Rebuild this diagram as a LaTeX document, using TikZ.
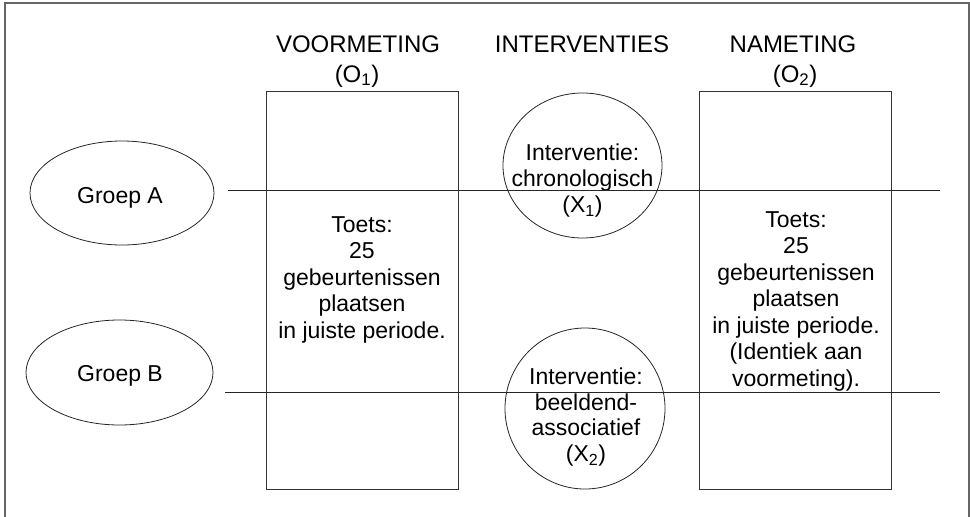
\documentclass[tikz,border=0pt]{standalone}
\usepackage{fontspec}
\setmainfont{Liberation Sans}
\usetikzlibrary{shapes.geometric}
\begin{document}
\begin{tikzpicture}[x=1pt,y=-1pt,
  head/.style={font=\fontsize{24}{28}\selectfont, inner sep=0pt, align=center, text=black},
  txt/.style={font=\fontsize{23}{26.5}\selectfont, inner sep=0pt, align=center, text=black},
  ctxt/.style={font=\fontsize{23}{25.5}\selectfont, inner sep=0pt, align=center, text=black},
  oval/.style={draw=black!85, ellipse, line width=0.8pt, inner sep=0pt},
  measbox/.style={draw=black!80, rectangle, line width=1pt, minimum width=192pt, minimum height=398pt, inner sep=0pt},
  frameline/.style={draw=black!60, line width=1.6pt},
  linkline/.style={draw=black!85, line width=1pt}]
\useasboundingbox (0,0) rectangle (970,517);
% frame
\coordinate (f1) at (5,517);
\coordinate (f2) at (5,3);
\coordinate (f3) at (969,3);
\coordinate (f4) at (969,517);
\draw[frameline] (f1) -- (f2) -- (f3) -- (f4);
% headings
\node[head, anchor=base] (hV) at (358,52) {VOORMETING};
\node[head, anchor=base] (hO1) at (357,82) {(O\textsubscript{1})};
\node[head, anchor=base] (hI) at (582,52) {INTERVENTIES};
\node[head, anchor=base] (hN) at (793,52) {NAMETING};
\node[head, anchor=base] (hO2) at (795,82) {(O\textsubscript{2})};
% boxes
\node[measbox] (boxV) at (362,290) {};
\node[measbox] (boxN) at (795,290) {};
% intervention circles
\node[oval, minimum width=159pt, minimum height=145pt] (cX1) at (582.5,165.5) {};
\node[oval, minimum width=160pt, minimum height=161pt] (cX2) at (585,408.5) {};
% groups
\node[oval, minimum width=184pt, minimum height=104pt] (gA) at (122,193) {};
\node[oval, minimum width=187pt, minimum height=105pt] (gB) at (119.5,372.5) {};
\node[txt, anchor=base] (tA) at (120,203) {Groep A};
\node[txt, anchor=base] (tB) at (120,381) {Groep B};
% texts
\node[txt, anchor=north] (tV) at (362,216) {Toets:\\25\\gebeurtenissen\\plaatsen\\in juiste periode.};
\node[txt, anchor=north] (tN) at (796,211) {Toets:\\25\\gebeurtenissen\\plaatsen\\in juiste periode.\\(Identiek aan\\voormeting).};
\node[ctxt, anchor=north] (tX1) at (582.5,144) {Interventie:\\chronologisch\\[1pt](X\textsubscript{1})};
\node[ctxt, anchor=north] (tX2) at (586,368) {Interventie:\\beeldend-\\associatief\\(X\textsubscript{2})};
% group lines
\coordinate (sA) at (228,190);
\coordinate (eA) at (940,190);
\coordinate (sB) at (225,392);
\coordinate (eB) at (940,392);
\draw[linkline] (sA) -- (eA);
\draw[linkline] (sB) -- (eB);
\end{tikzpicture}
\end{document}
